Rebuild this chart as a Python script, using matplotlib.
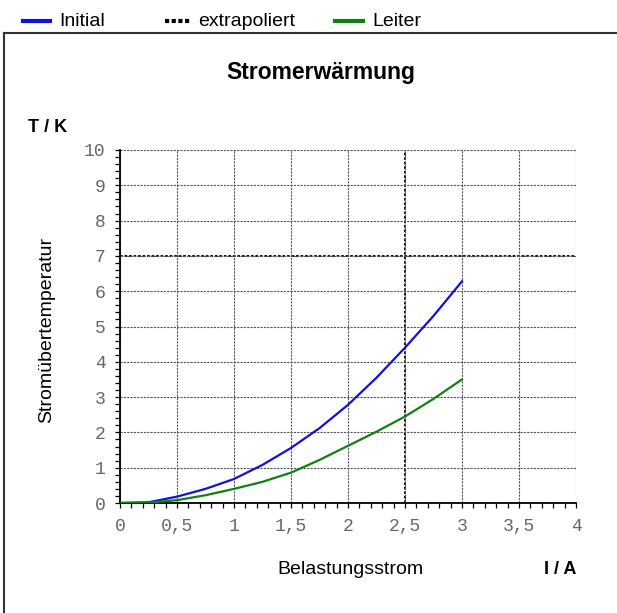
import matplotlib
matplotlib.use("Agg")
import matplotlib.pyplot as plt
from matplotlib.lines import Line2D
from matplotlib.ticker import MultipleLocator, FuncFormatter

# Data
current = [0, 0.25, 0.5, 0.75, 1.0, 1.25, 1.5, 1.75, 2.0, 2.25, 2.5, 2.75, 3.0]
initial = [0, 0.02, 0.18, 0.40, 0.68, 1.08, 1.56, 2.12, 2.78, 3.55, 4.40, 5.30, 6.28]
leiter = [0, 0.01, 0.08, 0.22, 0.40, 0.60, 0.86, 1.22, 1.62, 2.02, 2.45, 2.95, 3.50]
extrap_T = 7.0
extrap_I = 2.5
legend_labels = ["Initial", "extrapoliert", "Leiter"]

W, H = 617, 613
fig = plt.figure(figsize=(W / 100, H / 100), dpi=100)
plt.rcParams['font.family'] = ['Liberation Sans', 'DejaVu Sans']

ax = fig.add_axes([120 / W, 1 - 503 / H, (576 - 120) / W, (503 - 150) / H])
ax.set_xlim(0, 4)
ax.set_ylim(0, 10)

ax.xaxis.set_major_locator(MultipleLocator(0.5))
ax.xaxis.set_minor_locator(MultipleLocator(0.1))
ax.yaxis.set_major_locator(MultipleLocator(1))
ax.yaxis.set_minor_locator(MultipleLocator(0.2))

def fmt(v, pos):
    return ("%g" % v).replace(".", ",")
ax.xaxis.set_major_formatter(FuncFormatter(fmt))
ax.yaxis.set_major_formatter(FuncFormatter(fmt))

ax.grid(True, which='major', color='#555555', linestyle=(0, (2, 1)), linewidth=0.8)
ax.axhline(extrap_T, color='black', linestyle=(0, (1.5, 1)), linewidth=1.3, zorder=1.5)
ax.axvline(extrap_I, color='black', linestyle=(0, (1.5, 1)), linewidth=1.3, zorder=1.5)

for s in ['top', 'right']:
    ax.spines[s].set_visible(False)
for s in ['left', 'bottom']:
    ax.spines[s].set_color('black')
    ax.spines[s].set_linewidth(1.3)

ax.tick_params(which='both', direction='out', length=3.5, width=0.9, color='black')
ax.tick_params(which='major', labelsize=13, labelcolor='#666666', pad=7)
for lab in ax.get_xticklabels() + ax.get_yticklabels():
    lab.set_family(['Liberation Mono', 'DejaVu Sans Mono'])

ax.plot(current, initial, color='#1010e0', linewidth=1.6, zorder=3)
ax.plot(current, leiter, color='#108010', linewidth=1.6, zorder=3)

# Texts
fig.text(321 / W, 1 - 72 / H, "Stromerwärmung", ha='center', va='center',
         fontsize=16.5, fontweight='bold')
fig.text(28 / W, 1 - 127 / H, "T / K", ha='left', va='center', fontsize=13, fontweight='bold')
fig.text(47 / W, 1 - 330 / H, "Stromübertemperatur", ha='center', va='center',
         fontsize=14, rotation=90)
fig.text(350 / W, 1 - 570 / H, "Belastungsstrom", ha='center', va='center', fontsize=14)
fig.text(560 / W, 1 - 570 / H, "I / A", ha='center', va='center', fontsize=13, fontweight='bold')

# Frame
fig.add_artist(Line2D([4 / W, 4 / W], [0, 1 - 33 / H], color='#333333', linewidth=1.5))
fig.add_artist(Line2D([4 / W, 1], [1 - 33 / H, 1 - 33 / H], color='#333333', linewidth=1.5))

# Legend (manual)
ly = 1 - 21 / H
entries = [(23, 50, 59, '#1010e0', '-'), (165, 190, 198, 'black', (0, (1, 0.6))),
           (335, 363, 372, '#108010', '-')]
for (x0, x1, xt, c, ls), lab in zip(entries, legend_labels):
    fig.add_artist(Line2D([x0 / W, x1 / W], [ly, ly], color=c, linestyle=ls, linewidth=3))
    fig.text(xt / W, ly, lab, ha='left', va='center', fontsize=14)

fig.savefig("out.png", dpi=100)
